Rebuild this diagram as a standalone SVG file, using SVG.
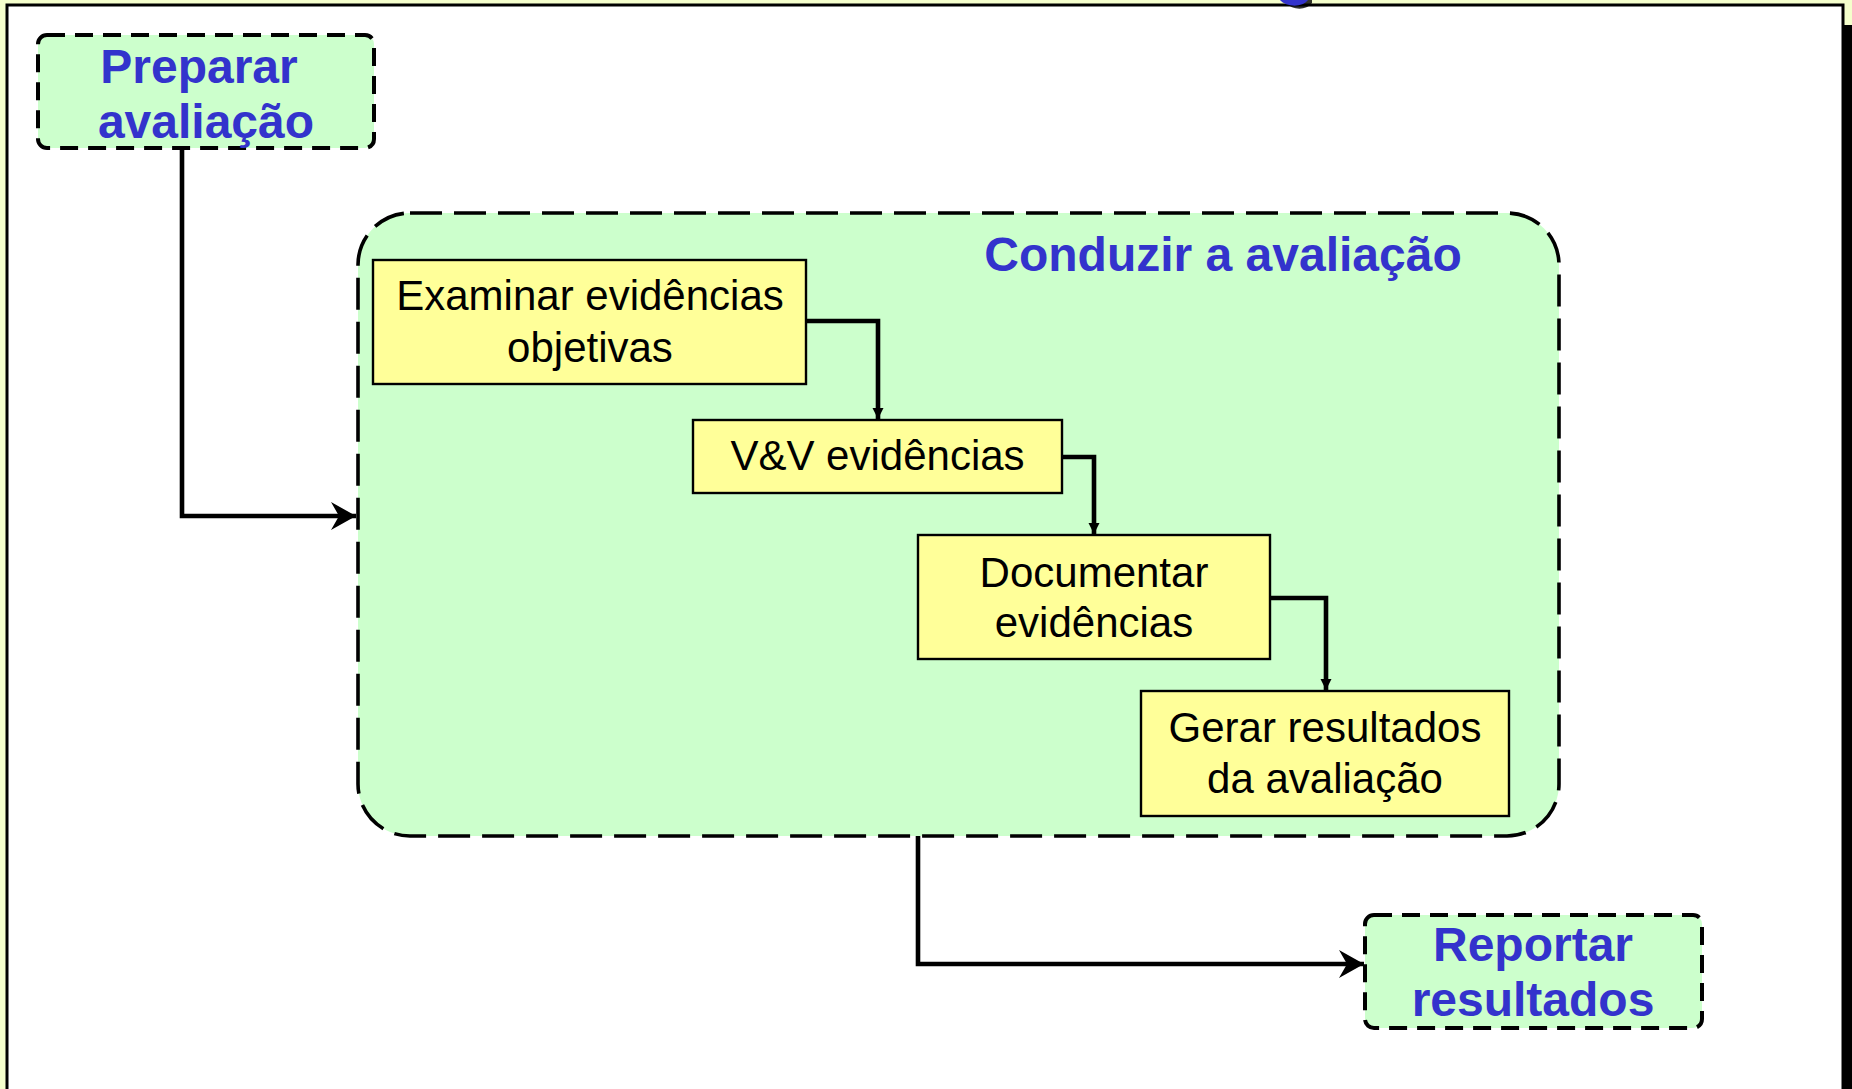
<svg xmlns="http://www.w3.org/2000/svg" width="1852" height="1089" viewBox="0 0 1852 1089">
<defs>
<style>
.phase{fill:#CCFFCC;stroke:#000;stroke-width:4;stroke-dasharray:18 10}
.big{fill:#CCFFCC;stroke:#000;stroke-width:3.6;stroke-dasharray:32 12}
.step{fill:#FFFF99;stroke:#000;stroke-width:2.4}
.ph{font-family:"Liberation Sans",Arial,sans-serif;font-weight:bold;font-size:48px;fill:#3333CC;text-anchor:middle}
.st{font-family:"Liberation Sans",Arial,sans-serif;font-size:42px;fill:#000;text-anchor:middle}
.con{fill:none;stroke:#000;stroke-width:4.6;stroke-linejoin:miter}
</style>
<marker id="stealth" markerUnits="userSpaceOnUse" markerWidth="30" markerHeight="30" viewBox="-27 -15 30 30" refX="0" refY="0" orient="auto">
<path d="M0,0 L-25,-14 L-17,0 L-25,14 Z" fill="#000"/>
</marker>
<marker id="tri" markerUnits="userSpaceOnUse" markerWidth="14" markerHeight="14" viewBox="-12 -7 14 14" refX="0" refY="0" orient="auto">
<path d="M0,0 L-11,-5.5 L-11,5.5 Z" fill="#000"/>
</marker>
</defs>
<rect x="0" y="0" width="1852" height="1089" fill="#F5FFCC"/>
<rect x="1844" y="25" width="8" height="1064" fill="#000"/>
<rect x="7" y="5" width="1836" height="1090" fill="#fff" stroke="#000" stroke-width="3"/>
<g id="title-fragment">
<path d="M1286,3 C1292,10 1306,11 1312,3 L1312,0 L1290,0 Z" fill="#000" opacity="0.8"/>
<path d="M1280,0 C1286,7 1302,8 1308,0 Z" fill="#3333CC"/>
</g>
<g id="node-conduzir">
<rect class="big" x="358" y="213" width="1201" height="623" rx="52" ry="52"/>
<text class="ph" x="1223" y="271">Conduzir a avaliação</text>
</g>
<g id="node-preparar">
<rect class="phase" x="38" y="35" width="336" height="113" rx="9" ry="9"/>
<text class="ph" x="199" y="83">Preparar</text>
<text class="ph" x="206" y="138">avaliação</text>
</g>
<g id="node-reportar">
<rect class="phase" x="1365" y="915" width="337" height="113" rx="9" ry="9"/>
<text class="ph" x="1533" y="961">Reportar</text>
<text class="ph" x="1533" y="1016">resultados</text>
</g>
<g id="node-examinar">
<rect class="step" x="373" y="260" width="433" height="124"/>
<text class="st" x="590" y="310">Examinar evidências</text>
<text class="st" x="590" y="362">objetivas</text>
</g>
<g id="node-vv">
<rect class="step" x="693" y="420" width="369" height="73"/>
<text class="st" x="877.5" y="470">V&amp;V evidências</text>
</g>
<g id="node-documentar">
<rect class="step" x="918" y="535" width="352" height="124"/>
<text class="st" x="1094" y="587">Documentar</text>
<text class="st" x="1094" y="637">evidências</text>
</g>
<g id="node-gerar">
<rect class="step" x="1141" y="691" width="368" height="125"/>
<text class="st" x="1325" y="742">Gerar resultados</text>
<text class="st" x="1325" y="793">da avaliação</text>
</g>
<g id="connectors">
<path class="con" d="M182,148 L182,516 L356,516" marker-end="url(#stealth)"/>
<path class="con" d="M918,836 L918,964 L1364,964" marker-end="url(#stealth)"/>
<path class="con" d="M806,321 L878,321 L878,419" marker-end="url(#tri)"/>
<path class="con" d="M1062,457 L1094,457 L1094,534" marker-end="url(#tri)"/>
<path class="con" d="M1270,598 L1326,598 L1326,690" marker-end="url(#tri)"/>
</g>
</svg>
